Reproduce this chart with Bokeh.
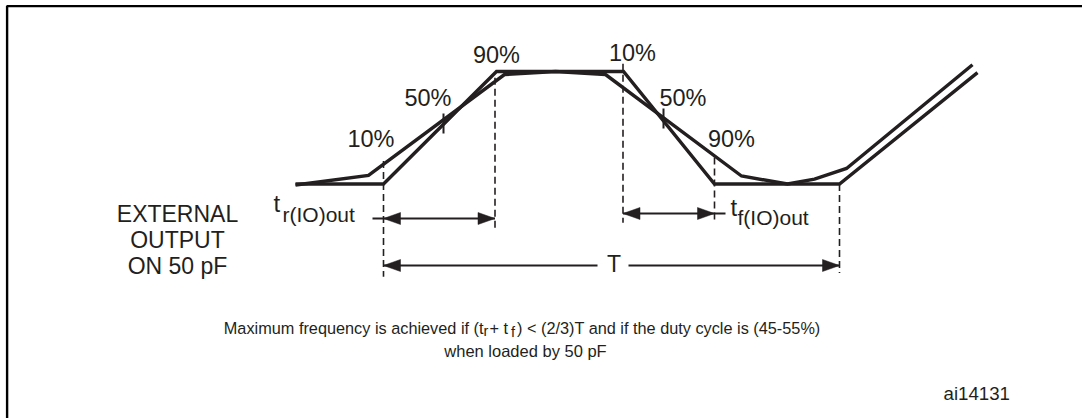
from bokeh.plotting import figure
from bokeh.models import Range1d
from bokeh.core.properties import value
from bokeh.embed import file_html
from bokeh.resources import INLINE

# ---------------- data ----------------
# horizontal: time in diagram units; vertical: output level in % of the swing
ideal_t = [295, 383, 496, 623, 714, 839, 977]
ideal_v = [0, 0, 100, 100, 0, 0, 99]
real_t = [295, 368, 504, 555, 605, 741, 787, 814, 846, 972]
real_v = [-0.9, 7.6, 97.3, 100, 97.3, 7.1, 0, 4.4, 13.8, 106]

edge_t = [383, 494.5, 622.5, 714, 839]          # timing reference edges
edge_top = [20.5, 94.5, 107, 23.5, 0]             # dashed line upper ends (level %)
edge_bot = [-82.5, -40.5, -34.5, -35, -79]        # dashed line lower ends (level %)

pct_labels = ["10%", "50%", "90%", "10%", "50%", "90%"]
pct_t = [370.5, 427.5, 496, 632, 682.5, 731]
pct_row = [147, 106, 63, 61, 106, 147]            # label baselines (page rows)

mid_t = [443, 663]          # 50 % crossing ticks
mid_lo = [44.9, 49.3]
mid_hi = [62.7, 67.1]

INK = "#231f20"
FONT = "Liberation Sans"

# level (%) corresponding to a vertical page row of the original drawing
def lv(row):
    return (183.5 - row) / 1.125

# baseline correction for the svg text layout (fraction of the font size)
K = 0.36

W, H = 1082, 418
p = figure(width=W, height=H, output_backend="svg", toolbar_location=None,
           x_range=Range1d(0, W), y_range=Range1d(lv(H), lv(0)),
           x_axis_type=None, y_axis_type=None, min_border=0)
p.grid.visible = False
p.outline_line_color = None
p.background_fill_color = "white"

# frame of the figure (top and left edges)
p.line([6.6, 6.6, W], [lv(H), lv(5.6), lv(5.6)], line_color="black", line_width=2.4)

# waveforms
p.line(ideal_t, ideal_v, line_color=INK, line_width=3.4, line_join="miter")
p.line(real_t, real_v, line_color=INK, line_width=3.4, line_join="miter")

# dashed edge markers
p.segment(x0=edge_t, y0=edge_top, x1=edge_t, y1=edge_bot,
          line_color=INK, line_width=1.6, line_dash="7 4")

# 50% ticks
p.segment(x0=mid_t, y0=mid_lo, x1=mid_t, y1=mid_hi, line_color=INK, line_width=2)

# percent labels
PS = 23.5
p.text(x=pct_t, y=[lv(r - K * PS) for r in pct_row], text=pct_labels,
       text_font=value(FONT), text_font_size=f"{PS}px", text_color=INK,
       text_align="center", text_baseline="alphabetic")

# arrows: (row, shaft start, shaft end, left tip or None, right tip or None)
arrows = [
    (218, 372, 494.5, 383, 494.5),
    (213, 622.5, 725, 622.5, 714),
    (265, 383, 597, 383, None),
    (265, 628, 839, None, 839),
]
HL, HW = 17, 6
for row, xs, xe, lt, rt in arrows:
    p.line([xs, xe], [lv(row), lv(row)], line_color=INK, line_width=2)
    if lt is not None:
        p.patch([lt, lt + HL, lt + HL], [lv(row), lv(row - HW), lv(row + HW)],
                fill_color=INK, line_color=INK, line_width=0.5)
    if rt is not None:
        p.patch([rt, rt - HL, rt - HL], [lv(row), lv(row - HW), lv(row + HW)],
                fill_color=INK, line_color=INK, line_width=0.5)

def txt(x, row, s, size, align="left"):
    p.text(x=[x], y=[lv(row - K * size)], text=[s], text_font=value(FONT),
           text_font_size=f"{size}px", text_color=INK, text_align=align,
           text_baseline="alphabetic")

# left caption
txt(177, 222, "EXTERNAL", 23, "center")
txt(177, 248, "OUTPUT", 23, "center")
txt(177, 274, "ON 50 pF", 23, "center")

# rise / fall time labels
txt(273, 212, "t", 24)
txt(282, 221.5, "r(IO)out", 21)
txt(730, 216, "t", 24)
txt(737, 225, "f(IO)out", 21)
txt(613.5, 272, "T", 23, "center")

# note
NS = 16.3
txt(483, 333, "Maximum frequency is achieved if (t", NS, "right")
txt(483, 336, "r", 14.5)
txt(489, 333, "+ t", NS)
txt(510.5, 336.5, "f", 14.5)
txt(516.5, 333, ") < (2/3)T and if the duty cycle is (45-55%)", NS)
txt(525, 356, "when loaded by 50 pF", 16.5, "center")

txt(943, 400, "ai14131", 18.7)

open("out.html", "w").write(file_html(p, INLINE))
